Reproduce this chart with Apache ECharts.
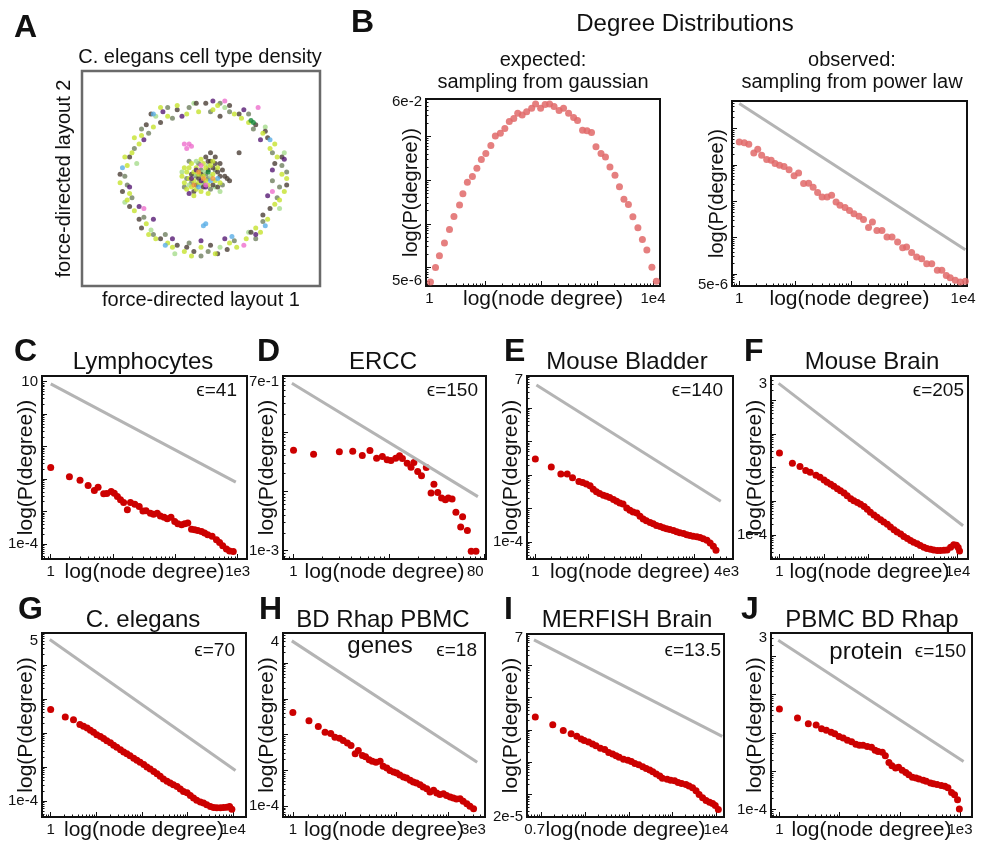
<!DOCTYPE html>
<html lang="en">
<head>
<meta charset="UTF-8">
<title>Degree distributions</title>
<script src="https://cdn.jsdelivr.net/npm/echarts@6/dist/echarts.min.js"></script>
<style>
    html, body { margin: 0; padding: 0; background: #fff; }
    #chart { width: 992px; height: 842px; }
</style>
</head>
<body>
<div id="chart"></div>
<script type="text/javascript">
    // ---- panel A: force-directed layout (layout units 0-100) ----
    var aYellow = [[84,52],[82,60],[79,64],[76,71],[70,76],[64,80],[57,84],[49,81],[44,80],[36,79],[30,74],[25,70],[21,62],[19,56],[16,48],[19,40],[22,35],[27,29],[31,22],[36,20],[43,16],[50,18],[56,15],[62,20],[69,22],[73,27],[78,31],[81,38],[85,44],[24,66],
        [33,83],[40,84],[55,82],[67,78],[81,66],[86,50],[83,40],[75,25],[65,18],[46,14],[38,18],[28,24],[20,43],[18,60],[22,69],
        [45,50],[47,53],[49,48],[51,51],[53,47],[46,46],[48,55],[52,55],[55,52],[44,53],[50,44],[54,56],[47,49],[52,49],[49,52],[43,48],[56,49],[48,45],[51,57],[45,55],
        [44,45],[42,51],[46,57],[50,59],[55,58],[58,48],[53,43],[47,42],[43,55],[57,55]];
    var aDark = [[86,47],[81,57],[78,69],[73,75],[66,80],[58,79],[52,85],[40,82],[33,76],[27,75],[20,60],[17,44],[20,37],[25,27],[33,22],[40,19],[47,16],[54,19],[61,17],[71,25],[79,36],[66,62],
        [29,80],[48,85],[62,84],[77,72],[84,60],[76,33],[57,15],[44,18],[24,31],[16,52],
        [50,52],[53,54],[55,55],[57,53],[58,51],[54,58],[52,60],[49,50],[46,52],[51,46],[48,47],[60,51],[56,57],[55,47],[47,44],
        [56,60],[58,57],[59,54],[61,50],[54,62],[53,58],[57,46],[62,49]];
    var aOlive = [[83,46],[84,56],[80,62],[72,73],[62,81],[54,81],[45,83],[38,78],[28,71],[22,64],[18,51],[21,41],[26,32],[35,24],[45,20],[53,16],[64,21],[76,30],[82,41],[80,49],
        [36,83],[58,85],[70,80],[86,53],[73,22],[50,14],[30,24],[19,47],[25,73],
        [48,51],[50,54],[53,50],[46,48],[51,48],[56,54],[44,50],[52,52],[49,57],[54,45],[43,46],[45,58],[59,47]];
    var aLight = [[85,62],[77,74],[60,83],[47,85],[31,79],[23,57],[18,39],[29,26],[39,15],[58,18],[70,25],[83,36],
        [47,52],[51,53],[54,51],[45,47],[50,47],[53,56],[56,46],[48,58],[58,44],[42,53]];
    var aPurple = [[80,54],[75,68],[68,82],[55,86],[42,79],[34,81],[26,68],[20,46],[24,37],[30,31],[38,22],[50,21],[60,22],[73,24],[78,42],[85,59],
        [46,50],[50,49],[52,46],[48,54],[45,43]];
    var aPink = [[43,66],[44,64],[45,66],[46,65],[60,86],[74,83],[80,44],[26,36],[68,19],[52,47],[50,56]];
    var aBlue = [[30,80],[17,55],[51,28],[52,29],[63,23],[77,28],[35,19],[79,68],[54,49],[57,50],[49,46]];
    var aGreen = [[71,77],[72,76],[53,53]];
    var aOrange = [[49,53],[51,50],[47,47],[55,50]];

    // ---- panel B and C-J: [log10(node degree), log10(P(degree))] ----
    var bGauss = [[.02,-5.33],[.11,-5.00],[.18,-4.73],[.27,-4.44],[.36,-4.13],[.44,-3.83],[.54,-3.57],[.60,-3.31],[.68,-3.05],[.77,-2.92],[.85,-2.73],[.93,-2.53],[1.01,-2.39],[1.10,-2.21],[1.18,-1.99],[1.27,-1.93],[1.35,-1.82],[1.43,-1.66],[1.51,-1.59],[1.58,-1.47],[1.66,-1.51],[1.74,-1.44],[1.83,-1.36],[1.90,-1.26],[1.99,-1.36],[2.07,-1.27],[2.15,-1.26],[2.23,-1.32],[2.32,-1.41],[2.40,-1.36],[2.49,-1.47],[2.58,-1.57],[2.65,-1.64],[2.74,-1.86],[2.82,-1.87],[2.90,-1.91],[2.98,-2.24],[3.07,-2.39],[3.15,-2.47],[3.23,-2.70],[3.32,-2.89],[3.40,-3.15],[3.48,-3.44],[3.56,-3.56],[3.64,-3.84],[3.73,-4.09],[3.81,-4.36],[3.89,-4.60],[3.98,-4.99],[4.06,-5.31]];
    var bPower = [[0,-1.37],[.09,-1.39],[.17,-1.43],[.26,-1.67],[.33,-1.57],[.40,-1.73],[.49,-1.85],[.57,-1.87],[.64,-1.96],[.72,-2.01],[.80,-2.04],[.89,-2.13],[.98,-2.30],[1.06,-2.22],[1.15,-2.51],[1.24,-2.50],[1.32,-2.61],[1.40,-2.76],[1.48,-2.88],[1.57,-2.88],[1.65,-2.83],[1.73,-3.02],[1.80,-3.11],[1.89,-3.17],[1.97,-3.25],[2.05,-3.34],[2.14,-3.41],[2.22,-3.50],[2.31,-3.72],[2.38,-3.57],[2.46,-3.80],[2.55,-3.80],[2.64,-3.98],[2.73,-3.98],[2.83,-4.12],[2.92,-4.28],[2.99,-4.26],[3.08,-4.41],[3.17,-4.53],[3.26,-4.58],[3.35,-4.72],[3.44,-4.72],[3.54,-4.90],[3.62,-4.90],[3.70,-5.04],[3.77,-5.10],[3.86,-5.17],[3.95,-5.22],[4.04,-5.20]];
    var bPowerLine = [[0,-0.31],[4.04,-4.33]];

    var cLympho = [[0,-1.65],[.30,-1.93],[.47,-2.04],[.60,-2.20],[.70,-2.36],[.76,-2.26],[.85,-2.46],[.90,-2.45],[.97,-2.39],[1.02,-2.44],[1.07,-2.54],[1.12,-2.64],[1.17,-2.73],[1.23,-2.95],[1.28,-2.73],[1.35,-2.78],[1.42,-2.85],[1.48,-2.99],[1.53,-2.98],[1.60,-3.06],[1.65,-3.09],[1.71,-3.06],[1.76,-3.14],[1.82,-3.18],[1.87,-3.23],[1.93,-3.18],[1.99,-3.31],[2.04,-3.38],[2.10,-3.41],[2.15,-3.38],[2.20,-3.36],[2.26,-3.55],[2.31,-3.57],[2.36,-3.59],[2.42,-3.62],[2.47,-3.67],[2.52,-3.72],[2.59,-3.77],[2.66,-3.88],[2.71,-3.96],[2.76,-4.06],[2.82,-4.16],[2.87,-4.22],[2.93,-4.24]];
    var cLine = [[0,0.93],[2.97,-2.10]];

    var dErcc = [[0,-1.31],[.21,-1.375],[.48,-1.336],[.62,-1.325],[.72,-1.398],[.80,-1.314],[.87,-1.443],[.93,-1.415],[.98,-1.47],[1.02,-1.482],[1.07,-1.443],[1.11,-1.404],[1.14,-1.448],[1.19,-1.527],[1.23,-1.594],[1.26,-1.516],[1.30,-1.667],[1.34,-1.74],[1.39,-1.60],[1.44,-2.03],[1.47,-1.88],[1.51,-2.02],[1.55,-2.115],[1.59,-2.143],[1.62,-2.115],[1.66,-2.13],[1.70,-2.355],[1.75,-2.60],[1.77,-2.43],[1.82,-2.66],[1.86,-3.01],[1.91,-3.01]];
    var dLine = [[-0.017,-0.183],[1.93,-2.09]];

    var eBladder = [[0,-1.525],[.30,-1.76],[.48,-1.97],[.60,-1.97],[.70,-2.08],[.82,-2.19],[.89,-2.22],[.96,-2.27],[1.03,-2.32],[1.09,-2.42],[1.15,-2.50],[1.21,-2.55],[1.28,-2.60],[1.34,-2.63],[1.40,-2.67],[1.47,-2.73],[1.53,-2.78],[1.59,-2.83],[1.65,-2.86],[1.72,-2.98],[1.78,-3.05],[1.84,-3.10],[1.91,-3.13],[1.97,-3.23],[2.03,-3.31],[2.09,-3.36],[2.16,-3.41],[2.22,-3.45],[2.28,-3.50],[2.35,-3.53],[2.41,-3.57],[2.47,-3.60],[2.53,-3.62],[2.60,-3.65],[2.66,-3.69],[2.72,-3.72],[2.79,-3.74],[2.85,-3.78],[2.91,-3.80],[2.97,-3.82],[3.04,-3.84],[3.10,-3.86],[3.16,-3.90],[3.23,-3.94],[3.29,-4.02],[3.35,-4.12],[3.40,-4.24]];
    var eLine = [[0.02,0.68],[3.49,-2.78]];

    var fBrain = [[0,-1.57],[.29,-1.87],[.46,-1.97],[.59,-2.09],[.69,-2.14],[.82,-2.23],[.91,-2.29],[1.00,-2.37],[1.07,-2.44],[1.15,-2.50],[1.22,-2.56],[1.30,-2.63],[1.37,-2.69],[1.45,-2.76],[1.52,-2.84],[1.60,-2.93],[1.67,-2.99],[1.75,-3.04],[1.82,-3.09],[1.90,-3.16],[1.97,-3.24],[2.04,-3.33],[2.12,-3.41],[2.19,-3.48],[2.27,-3.55],[2.34,-3.62],[2.42,-3.69],[2.49,-3.77],[2.57,-3.85],[2.64,-3.92],[2.72,-3.98],[2.79,-4.05],[2.87,-4.11],[2.94,-4.17],[3.01,-4.22],[3.09,-4.27],[3.16,-4.32],[3.24,-4.37],[3.31,-4.41],[3.39,-4.43],[3.46,-4.45],[3.54,-4.47],[3.61,-4.47],[3.69,-4.46],[3.76,-4.45],[3.84,-4.37],[3.91,-4.30],[3.97,-4.31],[4.01,-4.38],[4.04,-4.48]];
    var fLine = [[-0.02,0.50],[4.12,-3.73]];

    var gElegans = [[0,-1.31],[.32,-1.53],[.50,-1.61],[.64,-1.75],[.72,-1.80],[.80,-1.85],[.87,-1.92],[.94,-1.98],[1.01,-2.05],[1.09,-2.10],[1.16,-2.16],[1.23,-2.23],[1.31,-2.29],[1.38,-2.36],[1.45,-2.42],[1.53,-2.49],[1.60,-2.56],[1.67,-2.61],[1.74,-2.67],[1.82,-2.74],[1.89,-2.80],[1.96,-2.86],[2.04,-2.93],[2.11,-3.00],[2.18,-3.06],[2.26,-3.13],[2.33,-3.20],[2.40,-3.27],[2.47,-3.35],[2.55,-3.42],[2.62,-3.47],[2.69,-3.52],[2.77,-3.57],[2.84,-3.65],[2.91,-3.72],[2.99,-3.76],[3.06,-3.84],[3.13,-3.91],[3.20,-3.98],[3.28,-4.03],[3.35,-4.06],[3.42,-4.11],[3.50,-4.16],[3.57,-4.19],[3.64,-4.20],[3.72,-4.20],[3.79,-4.19],[3.86,-4.18],[3.92,-4.16],[3.97,-4.24]];
    var gLine = [[-0.02,0.75],[4.05,-3.10]];

    var hGenes = [[0,-1.38],[.31,-1.61],[.49,-1.77],[.62,-1.93],[.73,-1.97],[.81,-2.07],[.90,-2.10],[.97,-2.16],[1.05,-2.23],[1.12,-2.30],[1.20,-2.53],[1.26,-2.44],[1.34,-2.58],[1.40,-2.62],[1.47,-2.70],[1.53,-2.74],[1.60,-2.77],[1.68,-2.74],[1.74,-2.88],[1.81,-2.93],[1.87,-3.00],[1.94,-3.04],[2.00,-3.07],[2.06,-3.13],[2.13,-3.18],[2.19,-3.21],[2.26,-3.27],[2.32,-3.32],[2.38,-3.35],[2.45,-3.40],[2.51,-3.46],[2.58,-3.51],[2.64,-3.60],[2.71,-3.55],[2.77,-3.63],[2.83,-3.67],[2.90,-3.65],[2.96,-3.70],[3.03,-3.74],[3.09,-3.77],[3.15,-3.80],[3.22,-3.79],[3.28,-3.86],[3.35,-3.93],[3.41,-4.00],[3.48,-4.07]];
    var hLine = [[-0.02,0.62],[3.55,-2.77]];

    var iMerfish = [[-0.14,-1.60],[.26,-1.84],[.50,-2.02],[.68,-2.12],[.81,-2.20],[.91,-2.28],[.98,-2.33],[1.08,-2.38],[1.17,-2.44],[1.25,-2.49],[1.35,-2.57],[1.45,-2.61],[1.54,-2.70],[1.63,-2.75],[1.71,-2.80],[1.78,-2.85],[1.88,-2.91],[1.98,-2.94],[2.06,-2.98],[2.14,-3.04],[2.23,-3.08],[2.32,-3.14],[2.40,-3.20],[2.48,-3.24],[2.55,-3.30],[2.63,-3.37],[2.71,-3.43],[2.77,-3.50],[2.88,-3.53],[2.96,-3.56],[3.05,-3.58],[3.13,-3.63],[3.21,-3.66],[3.31,-3.69],[3.38,-3.74],[3.46,-3.79],[3.54,-3.89],[3.61,-4.00],[3.69,-4.10],[3.77,-4.19],[3.85,-4.24],[3.92,-4.28],[3.98,-4.34],[4.05,-4.47]];
    var iLine = [[-0.17,0.79],[4.14,-2.20]];

    var jProtein = [[0,-1.37],[.30,-1.61],[.48,-1.76],[.61,-1.79],[.70,-1.89],[.78,-1.93],[.86,-1.98],[.92,-2.02],[.99,-2.09],[1.06,-2.13],[1.13,-2.19],[1.20,-2.23],[1.27,-2.29],[1.33,-2.32],[1.39,-2.32],[1.46,-2.35],[1.53,-2.37],[1.59,-2.45],[1.64,-2.48],[1.71,-2.50],[1.76,-2.59],[1.82,-2.77],[1.87,-2.85],[1.93,-2.91],[1.98,-2.89],[2.04,-2.97],[2.10,-3.03],[2.15,-3.09],[2.21,-3.15],[2.27,-3.17],[2.32,-3.20],[2.39,-3.23],[2.44,-3.26],[2.51,-3.30],[2.56,-3.32],[2.62,-3.34],[2.69,-3.37],[2.75,-3.39],[2.80,-3.43],[2.86,-3.55],[2.91,-3.61],[2.96,-3.74],[2.99,-3.98]];
    var jLine = [[-0.02,0.42],[3.06,-2.74]];

    // tick labels: positions (log10) and their text
    var xTick1e4 = [0, 4], xText1e4 = ['1', '1e4'];
    var bGaussYTick = [-1.222, -5.301], bGaussYText = ['6e-2', '5e-6'];
    var bPowerYTick = [-0.222, -5.301], bPowerYText = ['0.6', '5e-6'];
    var cXTick = [0, 3], cXText = ['1', '1e3'];
    var cYTick = [1, -4], cYText = ['10', '1e-4'];
    var dXTick = [0, 1.903], dXText = ['1', '80'];
    var dYTick = [-0.155, -3], dYText = ['7e-1', '1e-3'];
    var eXTick = [0, 3.6], eXText = ['1', '4e3'];
    var eYTick = [0.845, -4], eYText = ['7', '1e-4'];
    var fYTick = [0.477, -4], fYText = ['3', '1e-4'];
    var gYTick = [0.7, -4], gYText = ['5', '1e-4'];
    var hXTick = [0, 3.477], hXText = ['1', '3e3'];
    var hYTick = [0.602, -4], hYText = ['4', '1e-4'];
    var iXTick = [-0.155, 4], iXText = ['0.7', '1e4'];
    var iYTick = [0.845, -4.699], iYText = ['7', '2e-5'];
    var jXTick = [0, 3], jXText = ['1', '1e3'];
    var jYTick = [0.477, -4], jYText = ['3', '1e-4'];

    var font = '"Liberation Sans", Arial, Helvetica, sans-serif';
    var grids = [], xAxes = [], yAxes = [], series = [], texts = [];

    function decades(min, max) {
        var out = [];
        for (var d = Math.ceil(min); d <= Math.floor(max); d++) out.push(d);
        return out;
    }

    function minors(min, max) {
        var out = [];
        for (var d = Math.floor(min); d <= Math.ceil(max); d++) {
            for (var k = 2; k <= 9; k++) {
                var v = d + Math.log10(k);
                if (v > min && v < max) out.push(v);
            }
        }
        return out;
    }

    function labelFmt(vals, txt) {
        return function (v) {
            for (var i = 0; i < vals.length; i++) {
                if (Math.abs(vals[i] - v) < 1e-6) return txt[i];
            }
            return '';
        };
    }

    function text(x, y, s, size, align, bold) {
        texts.push({
            type: 'text', x: x, y: y, silent: true,
            style: {
                text: s, fontSize: size, fontFamily: font, fontWeight: bold ? 'bold' : 'normal', fill: '#111',
                align: align || 'center', verticalAlign: 'middle',
                textAlign: align || 'center', textVerticalAlign: 'middle'
            }
        });
    }

    function axisPair(list, g, dim, p) {
        var range = dim === 'x' ? p.x : p.y;
        var ticks = dim === 'x' ? p.xTick : p.yTick;
        var tickText = dim === 'x' ? p.xText : p.yText;
        var main = {
            gridIndex: g, type: 'value', min: range[0], max: range[1],
            position: dim === 'x' ? 'bottom' : 'left',
            axisLine: { show: false, onZero: false }, splitLine: { show: false },
            axisTick: { show: true, inside: true, length: 5, customValues: decades(range[0], range[1]), lineStyle: { color: '#111', width: 1 } },
            axisLabel: {
                show: true, customValues: ticks, formatter: labelFmt(ticks, tickText),
                margin: dim === 'x' ? 5 : 4, fontSize: 15, color: '#111', fontFamily: font
            },
            name: dim === 'x' ? 'log(node degree)' : 'log(P(degree))',
            nameLocation: 'middle', nameGap: dim === 'x' ? 3 : 5, nameMoveOverlap: false,
            nameTextStyle: { fontSize: dim === 'x' ? 21 : p.yNameSize, color: '#111', fontFamily: font }
        };
        var minor = {
            gridIndex: g, type: 'value', min: range[0], max: range[1],
            position: dim === 'x' ? 'bottom' : 'left',
            axisLine: { show: false, onZero: false }, splitLine: { show: false }, axisLabel: { show: false },
            axisTick: { show: true, inside: true, length: 2.5, customValues: minors(range[0], range[1]), lineStyle: { color: '#111', width: 1 } }
        };
        list.push(main, minor);
    }

    function addPanel(p) {
        var g = grids.length;
        grids.push({
            left: p.rect[0], top: p.rect[1], width: p.rect[2], height: p.rect[3],
            show: true, borderColor: '#111', borderWidth: 2, backgroundColor: 'transparent', outerBoundsMode: 'none'
        });
        axisPair(xAxes, g, 'x', p);
        axisPair(yAxes, g, 'y', p);
        if (p.line) {
            series.push({
                type: 'line', xAxisIndex: 2 * g, yAxisIndex: 2 * g, data: p.line, symbol: 'none', silent: true,
                lineStyle: { color: '#b4b4b4', width: 3 }
            });
        }
        series.push({
            type: 'scatter', xAxisIndex: 2 * g, yAxisIndex: 2 * g, data: p.pts, symbolSize: 7,
            itemStyle: { color: p.color, opacity: p.opacity || 1 }
        });
    }

    // panel A: plain box, no ticks
    function addLayoutPanel() {
        var g = grids.length;
        grids.push({ left: 82, top: 71, width: 238, height: 215, show: true, borderColor: '#6a6a6a', borderWidth: 2.5, backgroundColor: 'transparent', outerBoundsMode: 'none' });
        var hidden = { axisLine: { show: false, onZero: false }, axisTick: { show: false }, axisLabel: { show: false }, splitLine: { show: false }, nameMoveOverlap: false };
        xAxes.push(Object.assign({ gridIndex: g, type: 'value', min: 0, max: 100, position: 'bottom', name: 'force-directed layout 1', nameLocation: 'middle', nameGap: 4, nameTextStyle: { fontSize: 20, color: '#111', fontFamily: font } }, hidden));
        xAxes.push(Object.assign({ gridIndex: g, type: 'value', min: 0, max: 100, position: 'bottom', show: false }, hidden));
        yAxes.push(Object.assign({ gridIndex: g, type: 'value', min: 0, max: 100, position: 'left', name: 'force-directed layout 2', nameLocation: 'middle', nameGap: 8, nameTextStyle: { fontSize: 20, color: '#111', fontFamily: font } }, hidden));
        yAxes.push(Object.assign({ gridIndex: g, type: 'value', min: 0, max: 100, position: 'left', show: false }, hidden));
        var groups = [
            [aOlive, '#6f7f5f'], [aLight, '#a6dc8c'], [aDark, '#4b3f36'], [aYellow, '#c6e22e'],
            [aPurple, '#561a74'], [aBlue, '#5aaee6'], [aPink, '#ee6fcd'], [aOrange, '#f29a3c'], [aGreen, '#18883a']
        ];
        groups.forEach(function (grp) {
            series.push({ type: 'scatter', xAxisIndex: 2 * g, yAxisIndex: 2 * g, data: grp[0], symbolSize: 5, itemStyle: { color: grp[1] } });
        });
    }

    addLayoutPanel();
    addPanel({ rect: [426, 99, 234, 187], x: [-0.06, 4.125], y: [-5.42, -1.146], pts: bGauss, line: null, color: '#e06868', opacity: 0.85,
        xTick: xTick1e4, xText: xText1e4, yTick: bGaussYTick, yText: bGaussYText, yNameSize: 20 });
    addPanel({ rect: [732, 101, 235, 185], x: [-0.13, 4.07], y: [-5.33, -0.24], pts: bPower, line: bPowerLine, color: '#e06868', opacity: 0.85,
        xTick: xTick1e4, xText: xText1e4, yTick: bPowerYTick, yText: bPowerYText, yNameSize: 20 });
    addPanel({ rect: [42, 376, 205, 183], x: [-0.14, 3.15], y: [-4.47, 1.175], pts: cLympho, line: cLine, color: '#cc0000',
        xTick: cXTick, xText: cXText, yTick: cYTick, yText: cYText, yNameSize: 21 });
    addPanel({ rect: [283, 376, 203, 183], x: [-0.11, 2.015], y: [-3.14, -0.06], pts: dErcc, line: dLine, color: '#cc0000',
        xTick: dXTick, xText: dXText, yTick: dYTick, yText: dYText, yNameSize: 21 });
    addPanel({ rect: [527, 376, 206, 183], x: [-0.157, 3.72], y: [-4.5, 0.95], pts: eBladder, line: eLine, color: '#cc0000',
        xTick: eXTick, xText: eXText, yTick: eYTick, yText: eYText, yNameSize: 21 });
    addPanel({ rect: [771, 376, 197, 183], x: [-0.19, 4.23], y: [-4.72, 0.72], pts: fBrain, line: fLine, color: '#cc0000',
        xTick: xTick1e4, xText: xText1e4, yTick: fYTick, yText: fYText, yNameSize: 21 });
    addPanel({ rect: [42, 633, 204, 184], x: [-0.19, 4.28], y: [-4.47, 0.94], pts: gElegans, line: gLine, color: '#cc0000',
        xTick: xTick1e4, xText: xText1e4, yTick: gYTick, yText: gYText, yNameSize: 21 });
    addPanel({ rect: [283, 633, 202, 184], x: [-0.19, 3.70], y: [-4.30, 0.84], pts: hGenes, line: hLine, color: '#cc0000',
        xTick: hXTick, xText: hXText, yTick: hYTick, yText: hYText, yNameSize: 21 });
    addPanel({ rect: [527, 634, 197, 183], x: [-0.33, 4.18], y: [-4.70, 0.97], pts: iMerfish, line: iLine, color: '#cc0000',
        xTick: iXTick, xText: iXText, yTick: iYTick, yText: iYText, yNameSize: 21 });
    addPanel({ rect: [771, 633, 201, 184], x: [-0.14, 3.20], y: [-4.19, 0.61], pts: jProtein, line: jLine, color: '#cc0000',
        xTick: jXTick, xText: jXText, yTick: jYTick, yText: jYText, yNameSize: 21 });

    // panel letters
    text(14, 28, 'A', 32, 'left', true);
    text(351, 23, 'B', 32, 'left', true);
    text(14, 352, 'C', 32, 'left', true);
    text(257, 352, 'D', 32, 'left', true);
    text(504, 352, 'E', 32, 'left', true);
    text(744, 352, 'F', 32, 'left', true);
    text(18, 610, 'G', 32, 'left', true);
    text(259, 610, 'H', 32, 'left', true);
    text(504, 610, 'I', 32, 'left', true);
    text(741, 610, 'J', 32, 'left', true);

    // titles
    text(200, 57, 'C. elegans cell type density', 20);
    text(685, 24, 'Degree Distributions', 24);
    text(543, 60, 'expected:', 20);
    text(543, 82, 'sampling from gaussian', 20);
    text(852, 60, 'observed:', 20);
    text(852, 82, 'sampling from power law', 20);
    text(143, 362, 'Lymphocytes', 24);
    text(383, 362, 'ERCC', 24);
    text(627, 362, 'Mouse Bladder', 24);
    text(872, 362, 'Mouse Brain', 24);
    text(143, 620, 'C. elegans', 24);
    text(383, 620, 'BD Rhap PBMC', 24);
    text(380, 646, 'genes', 24);
    text(627, 620, 'MERFISH Brain', 24);
    text(872, 620, 'PBMC BD Rhap', 24);
    text(866, 652, 'protein', 24);

    // epsilon annotations
    text(237, 391, 'ϵ=41', 19, 'right');
    text(478, 391, 'ϵ=150', 19, 'right');
    text(723, 391, 'ϵ=140', 19, 'right');
    text(964, 391, 'ϵ=205', 19, 'right');
    text(235, 651, 'ϵ=70', 19, 'right');
    text(477, 651, 'ϵ=18', 19, 'right');
    text(721, 651, 'ϵ=13.5', 19, 'right');
    text(966, 652, 'ϵ=150', 19, 'right');

    var myChart = echarts.init(document.getElementById('chart'));
    myChart.setOption({
        animation: false,
        backgroundColor: '#ffffff',
        grid: grids,
        xAxis: xAxes,
        yAxis: yAxes,
        series: series,
        graphic: { elements: texts }
    });
</script>
</body>
</html>
